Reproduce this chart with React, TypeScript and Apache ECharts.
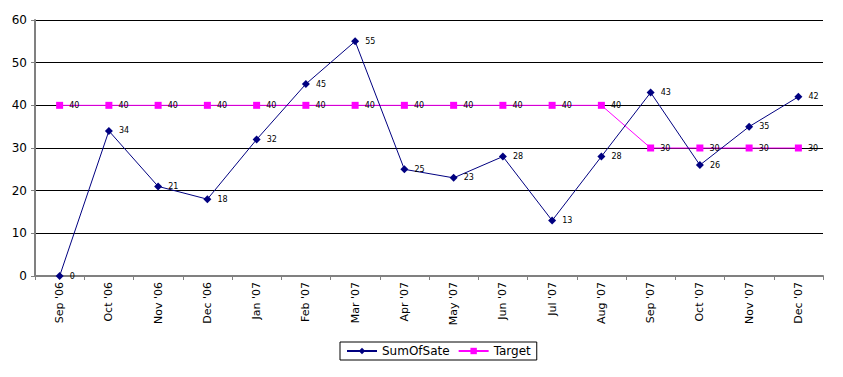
import React, { useEffect, useRef } from "react";
import * as echarts from "echarts";

const categories = ["Sep '06", "Oct '06", "Nov '06", "Dec '06", "Jan '07", "Feb '07", "Mar '07", "Apr '07", "May '07", "Jun '07", "Jul '07", "Aug '07", "Sep '07", "Oct '07", "Nov '07", "Dec '07"];
const sumOfSate = [0, 34, 21, 18, 32, 45, 55, 25, 23, 28, 13, 28, 43, 26, 35, 42];
const target = [40, 40, 40, 40, 40, 40, 40, 40, 40, 40, 40, 40, 30, 30, 30, 30];

export default function App() {
  const ref = useRef<HTMLDivElement>(null);
  useEffect(() => {
    document.body.style.margin = "0";
    const chart = echarts.init(ref.current!, null, { renderer: "svg" });
    const font = "DejaVu Sans, Verdana, sans-serif";
    const label = {
      show: true,
      position: "right" as const,
      distance: 6,
      fontSize: 8,
      fontFamily: font,
      color: "#000",
    };
    chart.setOption({
      animation: false,
      backgroundColor: "#fff",
      textStyle: { fontFamily: font },
      grid: { left: 35, right: 20, top: 20, bottom: 101 },
      legend: {
        bottom: 17,
        left: 340,
        itemWidth: 30,
        itemHeight: 8,
        itemGap: 8,
        padding: [3, 6],
        borderColor: "#000",
        borderWidth: 1,
        textStyle: { fontSize: 12, fontFamily: font, color: "#000" },
        data: ["SumOfSate", "Target"],
      },
      xAxis: {
        type: "category",
        data: categories,
        boundaryGap: true,
        axisLine: { lineStyle: { color: "#808080", width: 2 } },
        axisTick: { show: true, length: 4, lineStyle: { color: "#808080" } },
        axisLabel: { rotate: 90, fontSize: 11, color: "#000", fontFamily: font, margin: 6 },
        splitLine: { show: false },
      },
      yAxis: {
        type: "value",
        min: 0,
        max: 60,
        interval: 10,
        axisLine: { show: true, lineStyle: { color: "#808080", width: 2 } },
        axisTick: { show: true, length: 4, lineStyle: { color: "#808080" } },
        axisLabel: { fontSize: 12, color: "#000", fontFamily: font, margin: 8 },
        splitLine: { show: true, lineStyle: { color: "#000", width: 1 } },
      },
      series: [
        {
          name: "Target",
          type: "line",
          data: target,
          symbol: "rect",
          symbolSize: 7,
          itemStyle: { color: "#FF00FF" },
          lineStyle: { color: "#FF00FF", width: 1 },
          label,
        },
        {
          name: "SumOfSate",
          type: "line",
          data: sumOfSate,
          symbol: "diamond",
          symbolSize: 8,
          itemStyle: { color: "#000080" },
          lineStyle: { color: "#000080", width: 1 },
          label,
        },
      ],
    });
    return () => chart.dispose();
  }, []);
  return <div ref={ref} style={{ width: 843, height: 377 }} />;
}
